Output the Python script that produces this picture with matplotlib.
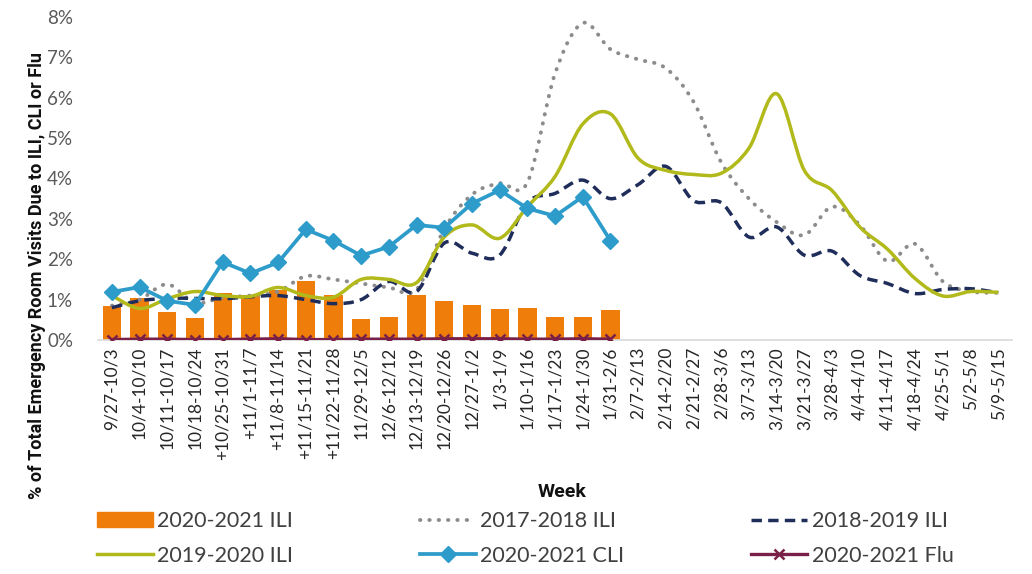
import matplotlib
matplotlib.use("Agg")
import matplotlib.pyplot as plt
import matplotlib.ticker as mticker
from matplotlib.path import Path
from matplotlib.patches import PathPatch, Patch
from matplotlib.lines import Line2D

# Week labels (x categories)
weeks = ["9/27-10/3", "10/4-10/10", "10/11-10/17", "10/18-10/24", "+10/25-10/31",
         "+11/1-11/7", "+11/8-11/14", "+11/15-11/21", "+11/22-11/28", "11/29-12/5",
         "12/6-12/12", "12/13-12/19", "12/20-12/26", "12/27-1/2", "1/3-1/9",
         "1/10-1/16", "1/17-1/23", "1/24-1/30", "1/31-2/6", "2/7-2/13",
         "2/14-2/20", "2/21-2/27", "2/28-3/6", "3/7-3/13", "3/14-3/20",
         "3/21-3/27", "3/28-4/3", "4/4-4/10", "4/11-4/17", "4/18-4/24",
         "4/25-5/1", "5/2-5/8", "5/9-5/15"]

# % of ER visits
ili_2020_2021 = [0.84, 1.04, 0.69, 0.55, 1.17, 1.11, 1.25, 1.46, 1.11, 0.52,
                 0.58, 1.12, 0.97, 0.87, 0.77, 0.79, 0.56, 0.57, 0.74]
ili_2017_2018 = [0.85, 1.00, 1.38, 0.92, 1.05, 1.10, 1.20, 1.58, 1.50, 1.40,
                 1.30, 1.25, 2.75, 3.60, 3.88, 3.90, 6.60, 7.85, 7.20, 6.95,
                 6.73, 5.90, 4.40, 3.50, 2.92, 2.60, 3.30, 2.85, 1.95, 2.38,
                 1.45, 1.20, 1.17]
ili_2018_2019 = [0.80, 0.97, 1.03, 1.03, 1.02, 1.07, 1.10, 1.00, 0.90, 1.00,
                 1.45, 1.20, 2.40, 2.15, 2.10, 3.40, 3.63, 3.96, 3.50, 3.85,
                 4.30, 3.45, 3.40, 2.55, 2.80, 2.10, 2.20, 1.60, 1.40, 1.15,
                 1.25, 1.27, 1.17]
ili_2019_2020 = [1.10, 0.78, 1.02, 1.20, 1.10, 1.08, 1.30, 1.10, 1.06, 1.50,
                 1.50, 1.42, 2.55, 2.85, 2.52, 3.30, 4.05, 5.35, 5.60, 4.50,
                 4.20, 4.10, 4.13, 4.75, 6.10, 4.20, 3.70, 2.80, 2.25, 1.52,
                 1.09, 1.20, 1.18]
cli_2020_2021 = [1.19, 1.31, 0.97, 0.87, 1.93, 1.65, 1.92, 2.74, 2.46, 2.09,
                 2.31, 2.85, 2.78, 3.38, 3.71, 3.26, 3.07, 3.55, 2.46]
flu_2020_2021 = [0.01, 0.02, 0.02, 0.01, 0.01, 0.02, 0.03, 0.01, 0.01, 0.02,
                 0.02, 0.02, 0.03, 0.03, 0.03, 0.02, 0.02, 0.03, 0.02]

c_bar = "#EE7D0A"
c_1718 = "#8C8C8C"
c_1819 = "#1F2D5A"
c_1920 = "#B2B91A"
c_cli = "#2E9CCA"
c_flu = "#7A2048"


def smooth_path(ys):
    # Excel-style smoothed line: cubic bezier through every point
    pts = list(zip(range(len(ys)), ys))
    verts = [pts[0]]
    codes = [Path.MOVETO]
    n = len(pts)
    for i in range(n - 1):
        p0 = pts[max(i - 1, 0)]
        p1 = pts[i]
        p2 = pts[i + 1]
        p3 = pts[min(i + 2, n - 1)]
        c1 = (p1[0] + (p2[0] - p0[0]) / 6, p1[1] + (p2[1] - p0[1]) / 6)
        c2 = (p2[0] - (p3[0] - p1[0]) / 6, p2[1] - (p3[1] - p1[1]) / 6)
        verts += [c1, c2, p2]
        codes += [Path.CURVE4] * 3
    return Path(verts, codes)


fig = plt.figure(figsize=(10.32, 5.74), dpi=100)
ax = fig.add_axes([0.095, 0.4077, 0.8857, 0.5627])

x_all = list(range(len(weeks)))
x_cur = list(range(len(ili_2020_2021)))

ax.bar(x_cur, ili_2020_2021, width=0.66, color=c_bar, zorder=1)

dotted = (0, (0.1, 2.3))
dashed = (0, (3.0, 1.8))
ax.add_patch(PathPatch(smooth_path(ili_2017_2018), fill=False, edgecolor=c_1718,
                       lw=2.8, linestyle=dotted, capstyle="round", zorder=2))
ax.add_patch(PathPatch(smooth_path(ili_2018_2019), fill=False, edgecolor=c_1819,
                       lw=2.5, linestyle=dashed, zorder=3))
ax.add_patch(PathPatch(smooth_path(ili_2019_2020), fill=False, edgecolor=c_1920,
                       lw=2.5, zorder=4))
ax.plot(x_cur, cli_2020_2021, color=c_cli, lw=2.7, marker="D", markersize=8.5, zorder=5)
ax.plot(x_cur, flu_2020_2021, color=c_flu, lw=2.4, marker="x", markersize=7,
        markeredgewidth=1.8, zorder=6)

ax.set_xlim(-0.5, len(weeks) - 0.5)
ax.set_ylim(0, 8)
ax.yaxis.set_major_locator(mticker.MultipleLocator(1))
ax.yaxis.set_major_formatter(mticker.PercentFormatter(decimals=0))
ax.set_xticks(x_all)
ax.set_xticklabels(weeks, rotation=90, fontsize=12.5, color="#262626", family="Lato")
for lab in ax.get_yticklabels():
    lab.set_family("Lato")
ax.tick_params(axis="y", length=0, labelsize=13.5, labelcolor="#595959", pad=18)
ax.tick_params(axis="x", length=0, pad=5)

for side in ["top", "right", "left"]:
    ax.spines[side].set_visible(False)
ax.spines["bottom"].set_color("#D9D9D9")
ax.spines["bottom"].set_linewidth(1.2)

fig.text(0.036, 0.52, "% of Total Emergency Room Visits Due to ILI, CLI or Flu",
         rotation=90, ha="center", va="center", fontsize=13, fontweight="bold",
         family="Roboto", color="#111111")
fig.text(0.545, 0.142, "Week", ha="center", va="center", fontsize=14,
         fontweight="bold", family="Roboto", color="#111111")

handles = [
    Patch(facecolor=c_bar, edgecolor=c_bar),
    Line2D([], [], color=c_1920, lw=2.5),
    Line2D([], [], color=c_1718, lw=2.8, linestyle=dotted, dash_capstyle="round"),
    Line2D([], [], color=c_cli, lw=2.7, marker="D", markersize=8.5),
    Line2D([], [], color=c_1819, lw=2.5, linestyle=dashed),
    Line2D([], [], color=c_flu, lw=2.4, marker="x", markersize=7, markeredgewidth=1.8),
]
labels = ["2020-2021 ILI", "2019-2020 ILI", "2017-2018 ILI", "2020-2021 CLI",
          "2018-2019 ILI", "2020-2021 Flu"]
leg = fig.legend(handles, labels, ncol=3, loc="center left",
                 bbox_to_anchor=(0.075, 0.062), frameon=False,
                 prop={"family": "Lato", "size": 15.5}, labelcolor="#404040",
                 handlelength=2.6, handletextpad=0.2, columnspacing=5.9,
                 labelspacing=0.68)

fig.savefig("out.png", dpi=100)
